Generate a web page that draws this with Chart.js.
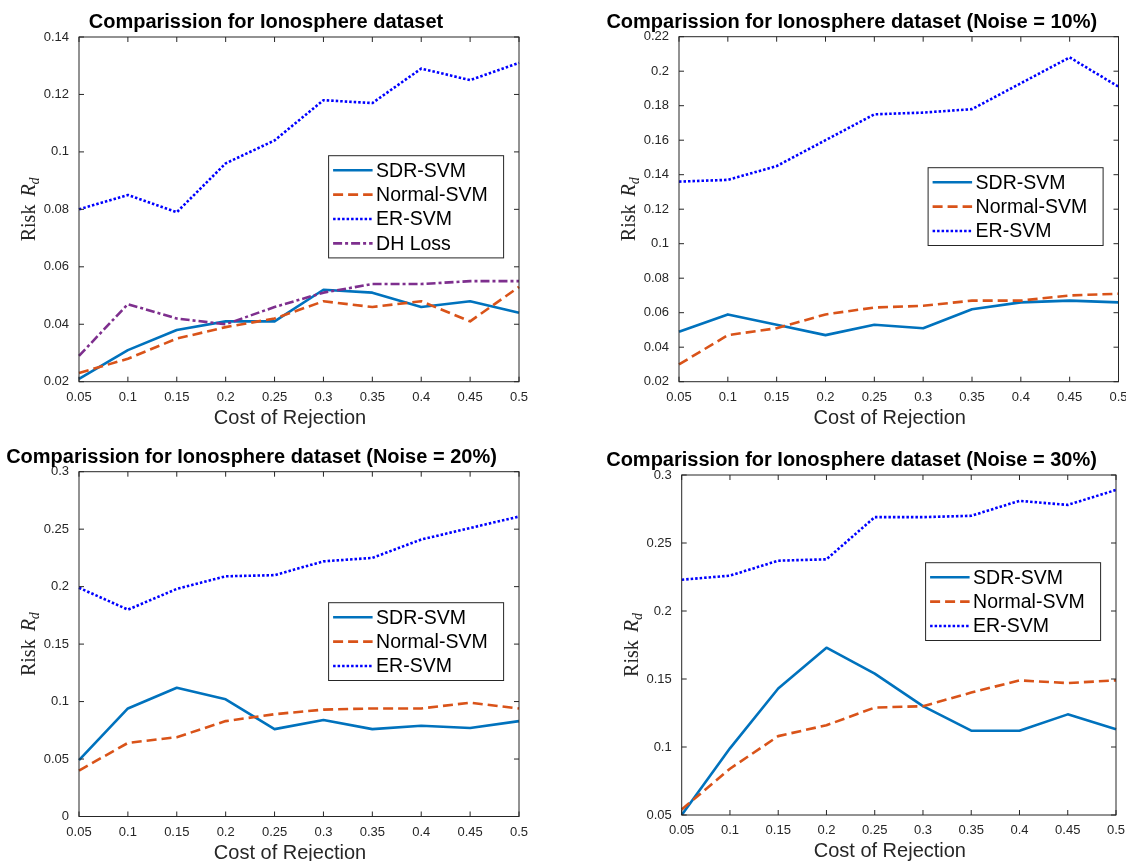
<!DOCTYPE html>
<html><head><meta charset="utf-8">
<script src="https://cdn.jsdelivr.net/npm/chart.js@4.4.0/dist/chart.umd.min.js"></script>
<style>
html,body{margin:0;padding:0;background:#fff;overflow:hidden;width:1126px;height:861px;position:relative;}
canvas{position:absolute;}
</style></head><body>
<canvas id="c1" style="left:0px;top:0px" width="560" height="432"></canvas>
<canvas id="c2" style="left:560px;top:0px" width="600" height="432"></canvas>
<canvas id="c3" style="left:0px;top:432px" width="560" height="429"></canvas>
<canvas id="c4" style="left:560px;top:432px" width="600" height="429"></canvas>
<script>
// ---------- data ----------
const costs = ['0.05','0.1','0.15','0.2','0.25','0.3','0.35','0.4','0.45','0.5'];

const titles = [
  'Comparission for Ionosphere dataset',
  'Comparission for Ionosphere dataset (Noise = 10%)',
  'Comparission for Ionosphere dataset (Noise = 20%)',
  'Comparission for Ionosphere dataset (Noise = 30%)'
];
const xLabel = 'Cost of Rejection';

// Panel 1 (no noise)
const p1Sdr    = [0.021,0.031,0.038,0.041,0.041,0.052,0.051,0.046,0.048,0.044];
const p1Normal = [0.023,0.028,0.035,0.039,0.042,0.048,0.046,0.048,0.041,0.053];
const p1Er     = [0.080,0.085,0.079,0.096,0.104,0.118,0.117,0.129,0.125,0.131];
const p1Dh     = [0.029,0.047,0.042,0.040,0.046,0.051,0.054,0.054,0.055,0.055];
const p1Ticks  = [0.02,0.04,0.06,0.08,0.1,0.12,0.14];

// Panel 2 (noise 10%)
const p2Sdr    = [0.049,0.059,0.053,0.047,0.053,0.051,0.062,0.066,0.067,0.066];
const p2Normal = [0.030,0.047,0.051,0.059,0.063,0.064,0.067,0.067,0.070,0.071];
const p2Er     = [0.136,0.137,0.145,0.160,0.175,0.176,0.178,0.193,0.208,0.191];
const p2Ticks  = [0.02,0.04,0.06,0.08,0.1,0.12,0.14,0.16,0.18,0.2,0.22];

// Panel 3 (noise 20%)
const p3Sdr    = [0.049,0.094,0.112,0.102,0.076,0.084,0.076,0.079,0.077,0.083];
const p3Normal = [0.040,0.064,0.069,0.083,0.089,0.093,0.094,0.094,0.099,0.094];
const p3Er     = [0.199,0.180,0.198,0.209,0.210,0.222,0.225,0.241,0.251,0.261];
const p3Ticks  = [0,0.05,0.1,0.15,0.2,0.25,0.3];

// Panel 4 (noise 30%)
const p4Sdr    = [0.050,0.099,0.143,0.173,0.154,0.130,0.112,0.112,0.124,0.113];
const p4Normal = [0.054,0.084,0.108,0.116,0.129,0.130,0.140,0.149,0.147,0.149];
const p4Er     = [0.223,0.226,0.237,0.238,0.269,0.269,0.270,0.281,0.278,0.289];
const p4Ticks  = [0.05,0.1,0.15,0.2,0.25,0.3];

// ---------- styles ----------
const FONT = '"Liberation Sans", Arial, Helvetica, sans-serif';
const SERIF = '"Liberation Serif", "Times New Roman", serif';
const AX = '#262626';
const styles = {
  sdr:    {label:'SDR-SVM',    color:'#0072BD', dash:[],          width:2.6},
  normal: {label:'Normal-SVM', color:'#D95319', dash:[10,5],      width:2.6},
  er:     {label:'ER-SVM',     color:'#0000FF', dash:[2.5,2],     width:2.6},
  dh:     {label:'DH Loss',    color:'#7E2F8E', dash:[9,3,3,3],   width:2.6}
};

const panels = [
  {id:'c1', w:560, h:432, area:{l:79,    r:519,   t:37,   b:381.7}, title:titles[0], titleDx:-33,
   yMin:0.02, yMax:0.14, yTicks:p1Ticks, legendTop:118.7,
   series:[['sdr',p1Sdr],['normal',p1Normal],['er',p1Er],['dh',p1Dh]]},
  {id:'c2', w:600, h:432, area:{l:119,   r:558.5, t:36.7, b:381.7}, title:titles[1], titleDx:-47,
   yMin:0.02, yMax:0.22, yTicks:p2Ticks, legendTop:131,
   series:[['sdr',p2Sdr],['normal',p2Normal],['er',p2Er]]},
  {id:'c3', w:560, h:429, area:{l:79,    r:519,   t:39.7, b:384.5}, title:titles[2], titleDx:-47.5,
   yMin:0, yMax:0.3, yTicks:p3Ticks, legendTop:131,
   series:[['sdr',p3Sdr],['normal',p3Normal],['er',p3Er]]},
  {id:'c4', w:600, h:429, area:{l:121.7, r:556,   t:43,   b:383},   title:titles[3], titleDx:-47.3,
   yMin:0.05, yMax:0.3, yTicks:p4Ticks, legendTop:87.7,
   series:[['sdr',p4Sdr],['normal',p4Normal],['er',p4Er]]}
];

function fmt(v){ return String(+(+v).toFixed(4)); }

const decorPlugin = {
  id:'decor',
  afterDatasetsDraw(chart){
    const p = chart.options.plugins.decor;
    const ctx = chart.ctx, ca = chart.chartArea;
    const xs = chart.scales.x, ys = chart.scales.y;
    ctx.save();
    // box
    ctx.strokeStyle = AX; ctx.lineWidth = 1; ctx.setLineDash([]);
    ctx.strokeRect(ca.left, ca.top, ca.right-ca.left, ca.bottom-ca.top);
    // inward ticks
    const tl = 5;
    ctx.beginPath();
    xs.ticks.forEach((t,i)=>{
      const px = xs.getPixelForTick(i);
      ctx.moveTo(px, ca.bottom); ctx.lineTo(px, ca.bottom-tl);
      ctx.moveTo(px, ca.top); ctx.lineTo(px, ca.top+tl);
    });
    ys.ticks.forEach(t=>{
      const py = ys.getPixelForValue(t.value);
      ctx.moveTo(ca.left, py); ctx.lineTo(ca.left+tl, py);
      ctx.moveTo(ca.right, py); ctx.lineTo(ca.right-tl, py);
    });
    ctx.stroke();
    // legend
    const ds = chart.data.datasets;
    const n = ds.length, bw = 175, step = 24.4, bh = 29 + (n-1)*step;
    const bx = ca.right - 15.4 - bw, by = ca.top + p.legendTop;
    ctx.fillStyle = '#fff'; ctx.fillRect(bx, by, bw, bh);
    ctx.strokeStyle = AX; ctx.lineWidth = 1; ctx.strokeRect(bx, by, bw, bh);
    ctx.font = '19.5px ' + FONT; ctx.textBaseline = 'middle'; ctx.textAlign = 'left';
    ds.forEach((d,i)=>{
      const y = by + 14.5 + i*step;
      ctx.beginPath();
      ctx.strokeStyle = d.borderColor; ctx.lineWidth = d.borderWidth;
      ctx.setLineDash(d.borderDash || []); ctx.lineCap = 'butt';
      ctx.moveTo(bx+4.5, y); ctx.lineTo(bx+44, y); ctx.stroke();
      ctx.setLineDash([]);
      ctx.fillStyle = '#000';
      ctx.fillText(d.label, bx+47.5, y+1);
    });
    ctx.restore();
  },
  afterDraw(chart){
    const p = chart.options.plugins.decor;
    const ctx = chart.ctx, ca = chart.chartArea;
    const cx = (ca.left+ca.right)/2, cy = (ca.top+ca.bottom)/2;
    ctx.save();
    // title
    ctx.fillStyle = '#000'; ctx.font = 'bold 20px ' + FONT;
    ctx.textAlign = 'center'; ctx.textBaseline = 'alphabetic';
    ctx.fillText(p.title, cx + p.titleDx, ca.top - 9);
    // x label
    ctx.fillStyle = AX; ctx.font = '20px ' + FONT;
    ctx.fillText(xLabel, cx - 9, ca.bottom + 42);
    // y label: Risk R_d
    ctx.translate(ca.left - 44, cy); ctx.rotate(-Math.PI/2);
    ctx.textAlign = 'left';
    ctx.font = '20px ' + SERIF; const w1 = ctx.measureText('Risk').width;
    ctx.font = 'italic 20px ' + SERIF; const w2 = ctx.measureText('R').width;
    ctx.font = 'italic 14px ' + SERIF; const w3 = ctx.measureText('d').width;
    const sp = 8, total = w1 + sp + w2 + w3;
    let x = -total/2;
    ctx.font = '20px ' + SERIF; ctx.fillText('Risk', x, 0); x += w1 + sp;
    ctx.font = 'italic 20px ' + SERIF; ctx.fillText('R', x, 0); x += w2;
    ctx.font = 'italic 14px ' + SERIF; ctx.fillText('d', x, 4);
    ctx.restore();
  }
};

panels.forEach(p=>{
  const n = p.series.length;
  new Chart(document.getElementById(p.id), {
    type:'line',
    data:{
      labels: costs,
      datasets: p.series.map(([k,vals],i)=>({
        label: styles[k].label, data: vals,
        borderColor: styles[k].color, backgroundColor: styles[k].color,
        borderDash: styles[k].dash, borderWidth: styles[k].width,
        borderCapStyle:'butt', borderJoinStyle:'round',
        pointRadius:0, pointHoverRadius:0, tension:0, fill:false,
        order: n - i
      }))
    },
    options:{
      responsive:false, animation:false, devicePixelRatio:1,
      events:[],
      layout:{padding:{left:0, top:p.area.t, right:p.w - p.area.r, bottom:0}},
      plugins:{
        legend:{display:false}, tooltip:{enabled:false}, title:{display:false},
        decor:{title:p.title, titleDx:p.titleDx, legendTop:p.legendTop}
      },
      scales:{
        x:{
          type:'category', offset:false,
          grid:{display:false, drawTicks:false}, border:{display:false},
          ticks:{font:{family:FONT, size:13}, color:AX, padding:8, maxRotation:0, minRotation:0, autoSkip:false},
          afterFit(s){ s.height = p.h - p.area.b; }
        },
        y:{
          type:'linear', min:p.yMin, max:p.yMax,
          grid:{display:false, drawTicks:false}, border:{display:false},
          ticks:{font:{family:FONT, size:13}, color:AX, padding:10, callback:v=>fmt(v)},
          afterBuildTicks(s){ s.ticks = p.yTicks.map(v=>({value:v})); },
          afterFit(s){ s.width = p.area.l; }
        }
      }
    },
    plugins:[decorPlugin]
  });
});
</script>
</body></html>
